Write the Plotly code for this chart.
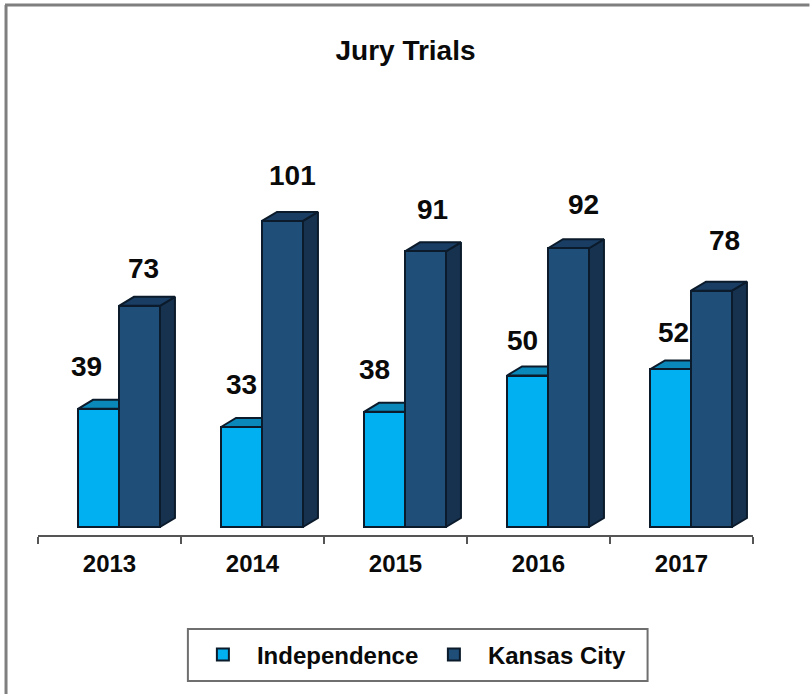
import plotly.graph_objects as go

years = ["2013", "2014", "2015", "2016", "2017"]
independence = [39, 33, 38, 50, 52]
kansas_city = [73, 101, 91, 92, 78]

ind_label_dx = [-12.5, 0, -10, -5, 3]
ind_label_dy = [42, 43, 42, 35.5, 37]
kc_label_dx = [4.5, 10.5, 7.5, 15.5, 13.5]
kc_label_dy = [37, 45, 42, 44, 50]

W, H = 810, 694
L, R, T, B = 38, 753.5, 100, 535
PX_PER_UNIT = 3.03
ZERO_PX = 527
CAT_PX = (R - L) / 5
BAR_W = 41 / CAT_PX
IND_OFF = (78 - 109.5) / CAT_PX
KC_OFF = IND_OFF + BAR_W
DX = 15 / CAT_PX
DY = 9 / PX_PER_UNIT

FONT = "Liberation Sans, Arial, sans-serif"
EDGE = "#0b1b2b"
IND_FRONT, IND_TOP = "#00B0F0", "#0A88BA"
KC_FRONT, KC_TOP, KC_SIDE = "#1F4E79", "#1A3D63", "#17324F"


def face_trace(xs, ys, color):
    return go.Scatter(x=xs, y=ys, mode="lines", fill="toself", fillcolor=color,
                      line=dict(color=EDGE, width=2), showlegend=False,
                      hoverinfo="skip", xaxis="x", yaxis="y")


def top_faces(values, off):
    xs, ys = [], []
    for i, v in enumerate(values):
        x0, x1 = i + off, i + off + BAR_W
        xs += [x0, x0 + DX, x1 + DX, x1, x0, None]
        ys += [v, v + DY, v + DY, v, v, None]
    return xs, ys


def side_faces(values, off):
    xs, ys = [], []
    for i, v in enumerate(values):
        x1 = i + off + BAR_W
        xs += [x1, x1 + DX, x1 + DX, x1, x1, None]
        ys += [0, DY, v + DY, v, 0, None]
    return xs, ys


fig = go.Figure()
fig.add_trace(face_trace(*top_faces(independence, IND_OFF), IND_TOP))
fig.add_trace(face_trace(*side_faces(kansas_city, KC_OFF), KC_SIDE))
fig.add_trace(face_trace(*top_faces(kansas_city, KC_OFF), KC_TOP))

for name, vals, off, col in [("Independence", independence, IND_OFF, IND_FRONT),
                             ("Kansas City", kansas_city, KC_OFF, KC_FRONT)]:
    fig.add_trace(go.Bar(name=name, x=years, y=vals, width=BAR_W, offset=off,
                         marker=dict(color=col, line=dict(color=EDGE, width=2)),
                         xaxis="x2", yaxis="y"))

ann = []
for vals, off, dxs, dys in [(independence, IND_OFF, ind_label_dx, ind_label_dy),
                            (kansas_city, KC_OFF, kc_label_dx, kc_label_dy)]:
    for i, v in enumerate(vals):
        ann.append(dict(x=i + off + BAR_W / 2, y=v, xref="x", yref="y", text=str(v),
                        showarrow=False, xshift=dxs[i], yshift=dys[i], yanchor="middle",
                        font=dict(family=FONT, size=28, color="#0a0a0a", weight=700)))


def px(x):
    return (x - L) / (R - L)


def py(y):
    return (B - y) / (B - T)


frame = "#7f7f7f"
shapes = [
    dict(type="line", xref="paper", yref="paper", x0=px(6), x1=px(6), y0=py(5), y1=py(694),
         line=dict(color=frame, width=3)),
    dict(type="line", xref="paper", yref="paper", x0=px(5), x1=px(810), y0=py(5), y1=py(5),
         line=dict(color=frame, width=3)),
    dict(type="rect", xref="paper", yref="paper", x0=px(188), x1=px(648), y0=py(629), y1=py(681),
         line=dict(color="#6f6f6f", width=2), fillcolor="white"),
]

fig.update_layout(
    width=W, height=H, autosize=False,
    margin=dict(l=L, r=W - R, t=T, b=H - B, pad=0),
    paper_bgcolor="white", plot_bgcolor="white",
    barmode="overlay", bargap=0,
    title=dict(text="Jury Trials", x=405.5 / W, xanchor="center", xref="container", y=1 - 50 / H,
               yanchor="middle", yref="container",
               font=dict(family=FONT, size=28, color="#0a0a0a", weight=700)),
    xaxis=dict(range=[-0.5, 4.5], visible=False, domain=[0, 1]),
    xaxis2=dict(type="category", overlaying="x", anchor="y", side="bottom",
                range=[-0.5, 4.5], tickson="boundaries", ticks="outside", ticklen=7,
                tickwidth=2, tickcolor="#555555", showline=True, linecolor="#555555",
                linewidth=2, showgrid=False, zeroline=False, ticklabelstandoff=6,
                tickfont=dict(family=FONT, size=24, color="#0a0a0a", weight=700)),
    yaxis=dict(range=[(ZERO_PX - B) / PX_PER_UNIT, (ZERO_PX - T) / PX_PER_UNIT],
               visible=False, domain=[0, 1]),
    legend=dict(orientation="h", x=px(189), xanchor="left", y=py(655), yanchor="middle",
                bgcolor="rgba(0,0,0,0)", borderwidth=0, itemwidth=58, entrywidth=158,
                entrywidthmode="pixels", traceorder="normal",
                font=dict(family=FONT, size=24, color="#0a0a0a", weight=700)),
    shapes=shapes, annotations=ann, showlegend=True,
)
fig.write_html("out.html", config={"displayModeBar": False},
               post_script="document.body.style.margin='0';document.body.style.overflow='hidden';")
